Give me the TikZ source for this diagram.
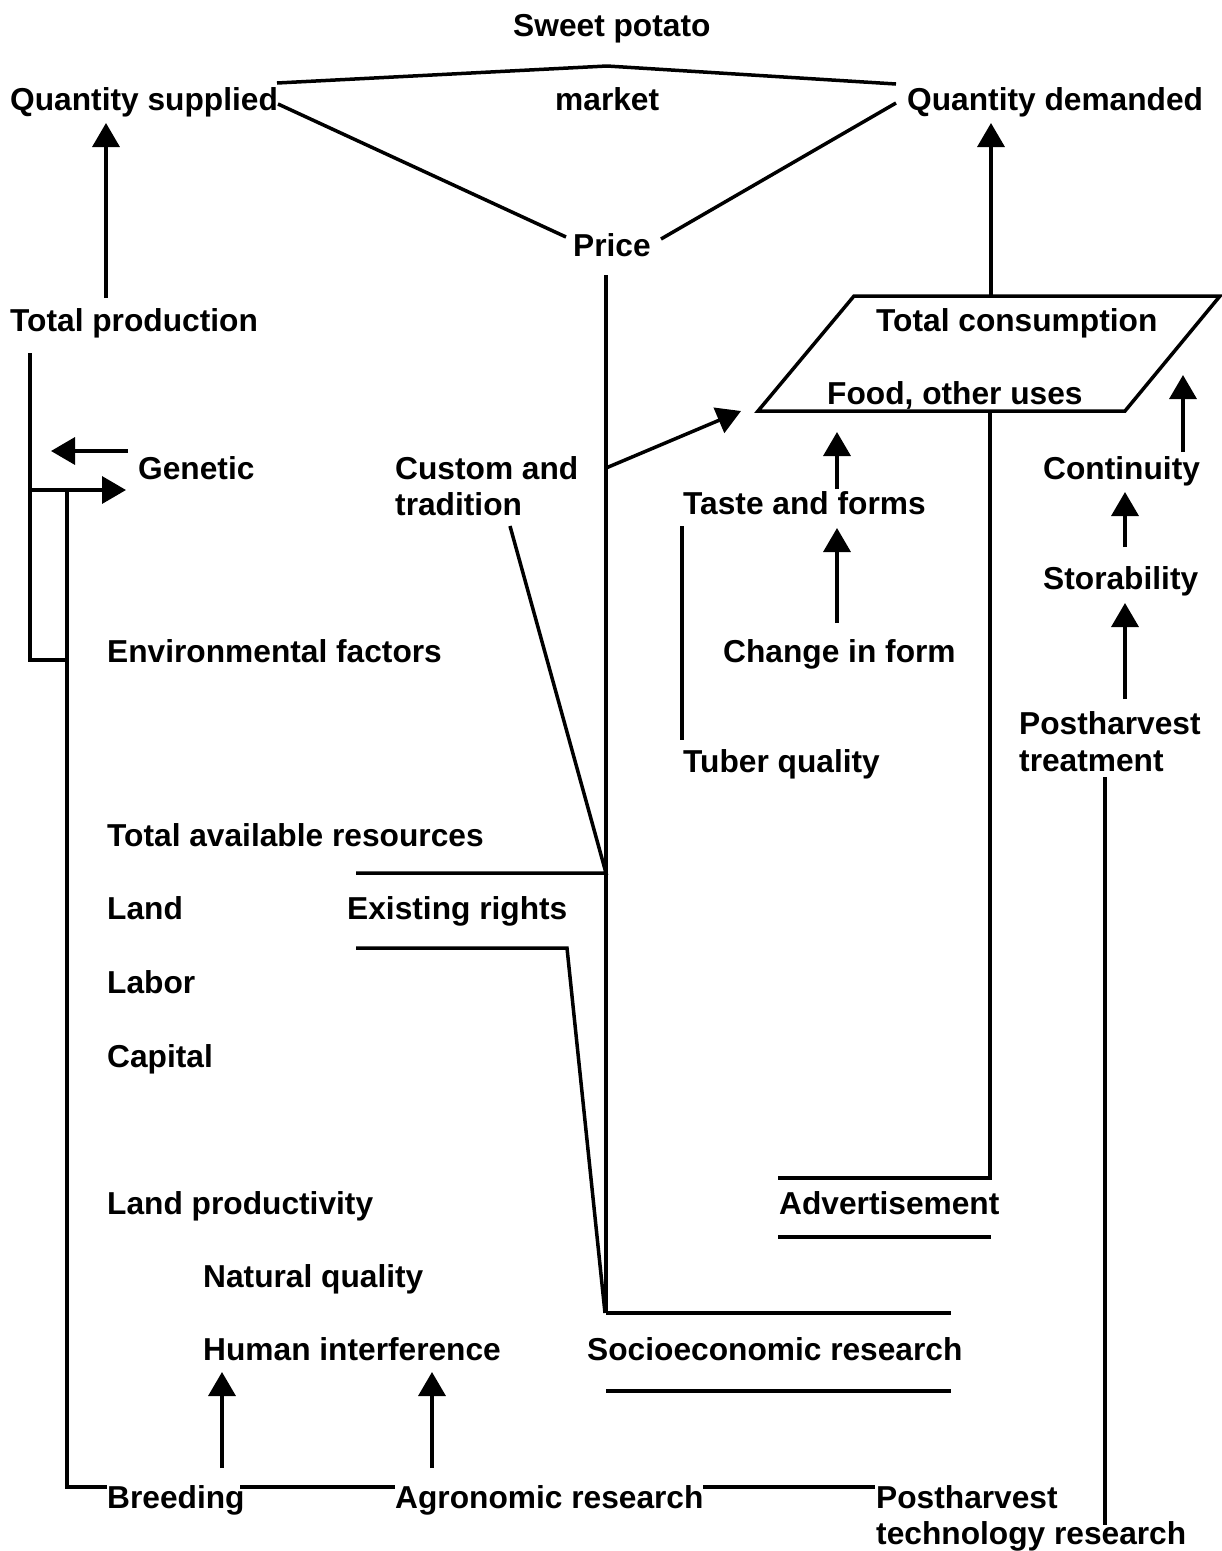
\documentclass[tikz,border=0pt]{standalone}
\usepackage{fontspec}
\setmainfont{Liberation Sans}
\usetikzlibrary{arrows.meta}
\begin{document}
\begin{tikzpicture}[x=1pt,y=-1pt,
  lbl/.style={anchor=base west,inner sep=0pt,font=\fontsize{31.7}{38}\selectfont\bfseries},
  ln/.style={line width=3.5pt},
  arr/.style={ln,-{Triangle[length=24pt,width=27pt]}}]
\useasboundingbox[fill=white] (0,0) rectangle (1222,1551);
% text
\node[lbl] (sweet) at (513,36) {Sweet potato};
\node[lbl] (qs) at (10,110) {Quantity supplied};
\node[lbl] (mkt) at (555,110) {market};
\node[lbl] (qd) at (907,110) {Quantity demanded};
\node[lbl] (price) at (573,256) {Price};
\node[lbl] (tprod) at (10,331) {Total production};
\node[lbl] (tcons) at (876,331) {Total consumption};
\node[lbl] (food) at (827,404) {Food, other uses};
\node[lbl] (gen) at (138,479) {Genetic};
\node[lbl] (cust) at (395,479) {Custom and};
\node[lbl] (trad) at (395,515) {tradition};
\node[lbl] (taste) at (683,514) {Taste and forms};
\node[lbl] (cont) at (1043,479) {Continuity};
\node[lbl] (stor) at (1043,589) {Storability};
\node[lbl] (env) at (107,662) {Environmental factors};
\node[lbl] (chg) at (723,662) {Change in form};
\node[lbl] (pha) at (1019,734) {Postharvest};
\node[lbl] (phb) at (1019,771) {treatment};
\node[lbl] (tuber) at (683,772) {Tuber quality};
\node[lbl] (tar) at (107,846) {Total available resources};
\node[lbl] (land) at (107,919) {Land};
\node[lbl] (rights) at (347,919) {Existing rights};
\node[lbl] (labor) at (107,993) {Labor};
\node[lbl] (capital) at (107,1067) {Capital};
\node[lbl] (lprod) at (107,1214) {Land productivity};
\node[lbl] (adv) at (779,1214) {Advertisement};
\node[lbl] (nat) at (203,1287) {Natural quality};
\node[lbl] (human) at (203,1360) {Human interference};
\node[lbl] (socio) at (587,1360) {Socioeconomic research};
\node[lbl] (breed) at (107,1508) {Breeding};
\node[lbl] (agro) at (395,1508) {Agronomic research};
\node[lbl] (phta) at (876,1508) {Postharvest};
\node[lbl] (phtb) at (876,1544) {technology research};
% coordinates
\coordinate (mL) at (277,83); \coordinate (mA) at (607,66); \coordinate (mR) at (896,84);
\coordinate (qsP) at (278,104); \coordinate (prL) at (566,237);
\coordinate (prR) at (661,239); \coordinate (qdP) at (896,103);
\coordinate (tpTop) at (106,298); \coordinate (qsBot) at (106,123);
\coordinate (prBot) at (606,275); \coordinate (prEnd) at (606,1313);
\coordinate (tcTop) at (991,296); \coordinate (qdBot) at (991,123);
\coordinate (pgA) at (758,411); \coordinate (pgB) at (854,296);
\coordinate (pgC) at (1220,296); \coordinate (pgD) at (1125,411);
\coordinate (custS) at (606,468); \coordinate (custT) at (741,411);
\coordinate (tasteS) at (837,489); \coordinate (tasteT) at (837,432);
\coordinate (chgS) at (837,623); \coordinate (chgT) at (837,528);
\coordinate (fdBot) at (990,411); \coordinate (advC) at (990,1178); \coordinate (advL) at (778,1178);
\coordinate (advB1) at (778,1237); \coordinate (advB2) at (991,1237);
\coordinate (contS) at (1183,452); \coordinate (contT) at (1183,375);
\coordinate (storS) at (1125,547); \coordinate (storT) at (1125,492);
\coordinate (phS) at (1125,699); \coordinate (phT) at (1125,603);
\coordinate (tubT) at (682,526); \coordinate (tubB) at (682,740);
\coordinate (phD1) at (1105,777); \coordinate (phD2) at (1105,1525);
\coordinate (trdB) at (510,526); \coordinate (tarJ) at (606,873); \coordinate (tarL) at (356,873);
\coordinate (erL) at (356,948); \coordinate (erC) at (567,948); \coordinate (erE) at (605,1313);
\coordinate (soT2) at (951,1313);
\coordinate (soB1) at (606,1391); \coordinate (soB2) at (951,1391);
\coordinate (lA) at (30,353); \coordinate (lB) at (30,660); \coordinate (lC) at (67,660);
\coordinate (gS) at (30,490); \coordinate (gT) at (126,490);
\coordinate (lD) at (67,490); \coordinate (lE) at (67,1487); \coordinate (lF) at (107,1487);
\coordinate (g2S) at (128,451); \coordinate (g2T) at (51,451);
\coordinate (bA1) at (240,1487); \coordinate (bA2) at (395,1487);
\coordinate (bB1) at (703,1487); \coordinate (bB2) at (875,1487);
\coordinate (hA1) at (222,1468); \coordinate (hA2) at (222,1372);
\coordinate (hB1) at (432,1468); \coordinate (hB2) at (432,1372);
% connectors
\draw[ln] (mL) -- (mA) -- (mR);
\draw[ln] (qsP) -- (prL);
\draw[ln] (prR) -- (qdP);
\draw[arr] (tpTop) -- (qsBot);
\draw[ln] (prBot) -- (prEnd);
\draw[arr] (tcTop) -- (qdBot);
\draw[ln] (pgA) -- (pgB) -- (pgC) -- (pgD) -- cycle;
\draw[arr] (custS) -- (custT);
\draw[arr] (tasteS) -- (tasteT);
\draw[arr] (chgS) -- (chgT);
\draw[ln] (fdBot) -- (advC) -- (advL);
\draw[ln] (advB1) -- (advB2);
\draw[arr] (contS) -- (contT);
\draw[arr] (storS) -- (storT);
\draw[arr] (phS) -- (phT);
\draw[ln] (tubT) -- (tubB);
\draw[ln] (phD1) -- (phD2);
\draw[ln] (trdB) -- (tarJ) -- (tarL);
\draw[ln] (erL) -- (erC) -- (erE);
\draw[ln] (prEnd) -- (soT2);
\draw[ln] (soB1) -- (soB2);
\draw[ln] (lA) -- (lB) -- (lC);
\draw[arr] (gS) -- (gT);
\draw[ln] (lD) -- (lE) -- (lF);
\draw[arr] (g2S) -- (g2T);
\draw[ln] (bA1) -- (bA2);
\draw[ln] (bB1) -- (bB2);
\draw[arr] (hA1) -- (hA2);
\draw[arr] (hB1) -- (hB2);
\end{tikzpicture}
\end{document}
